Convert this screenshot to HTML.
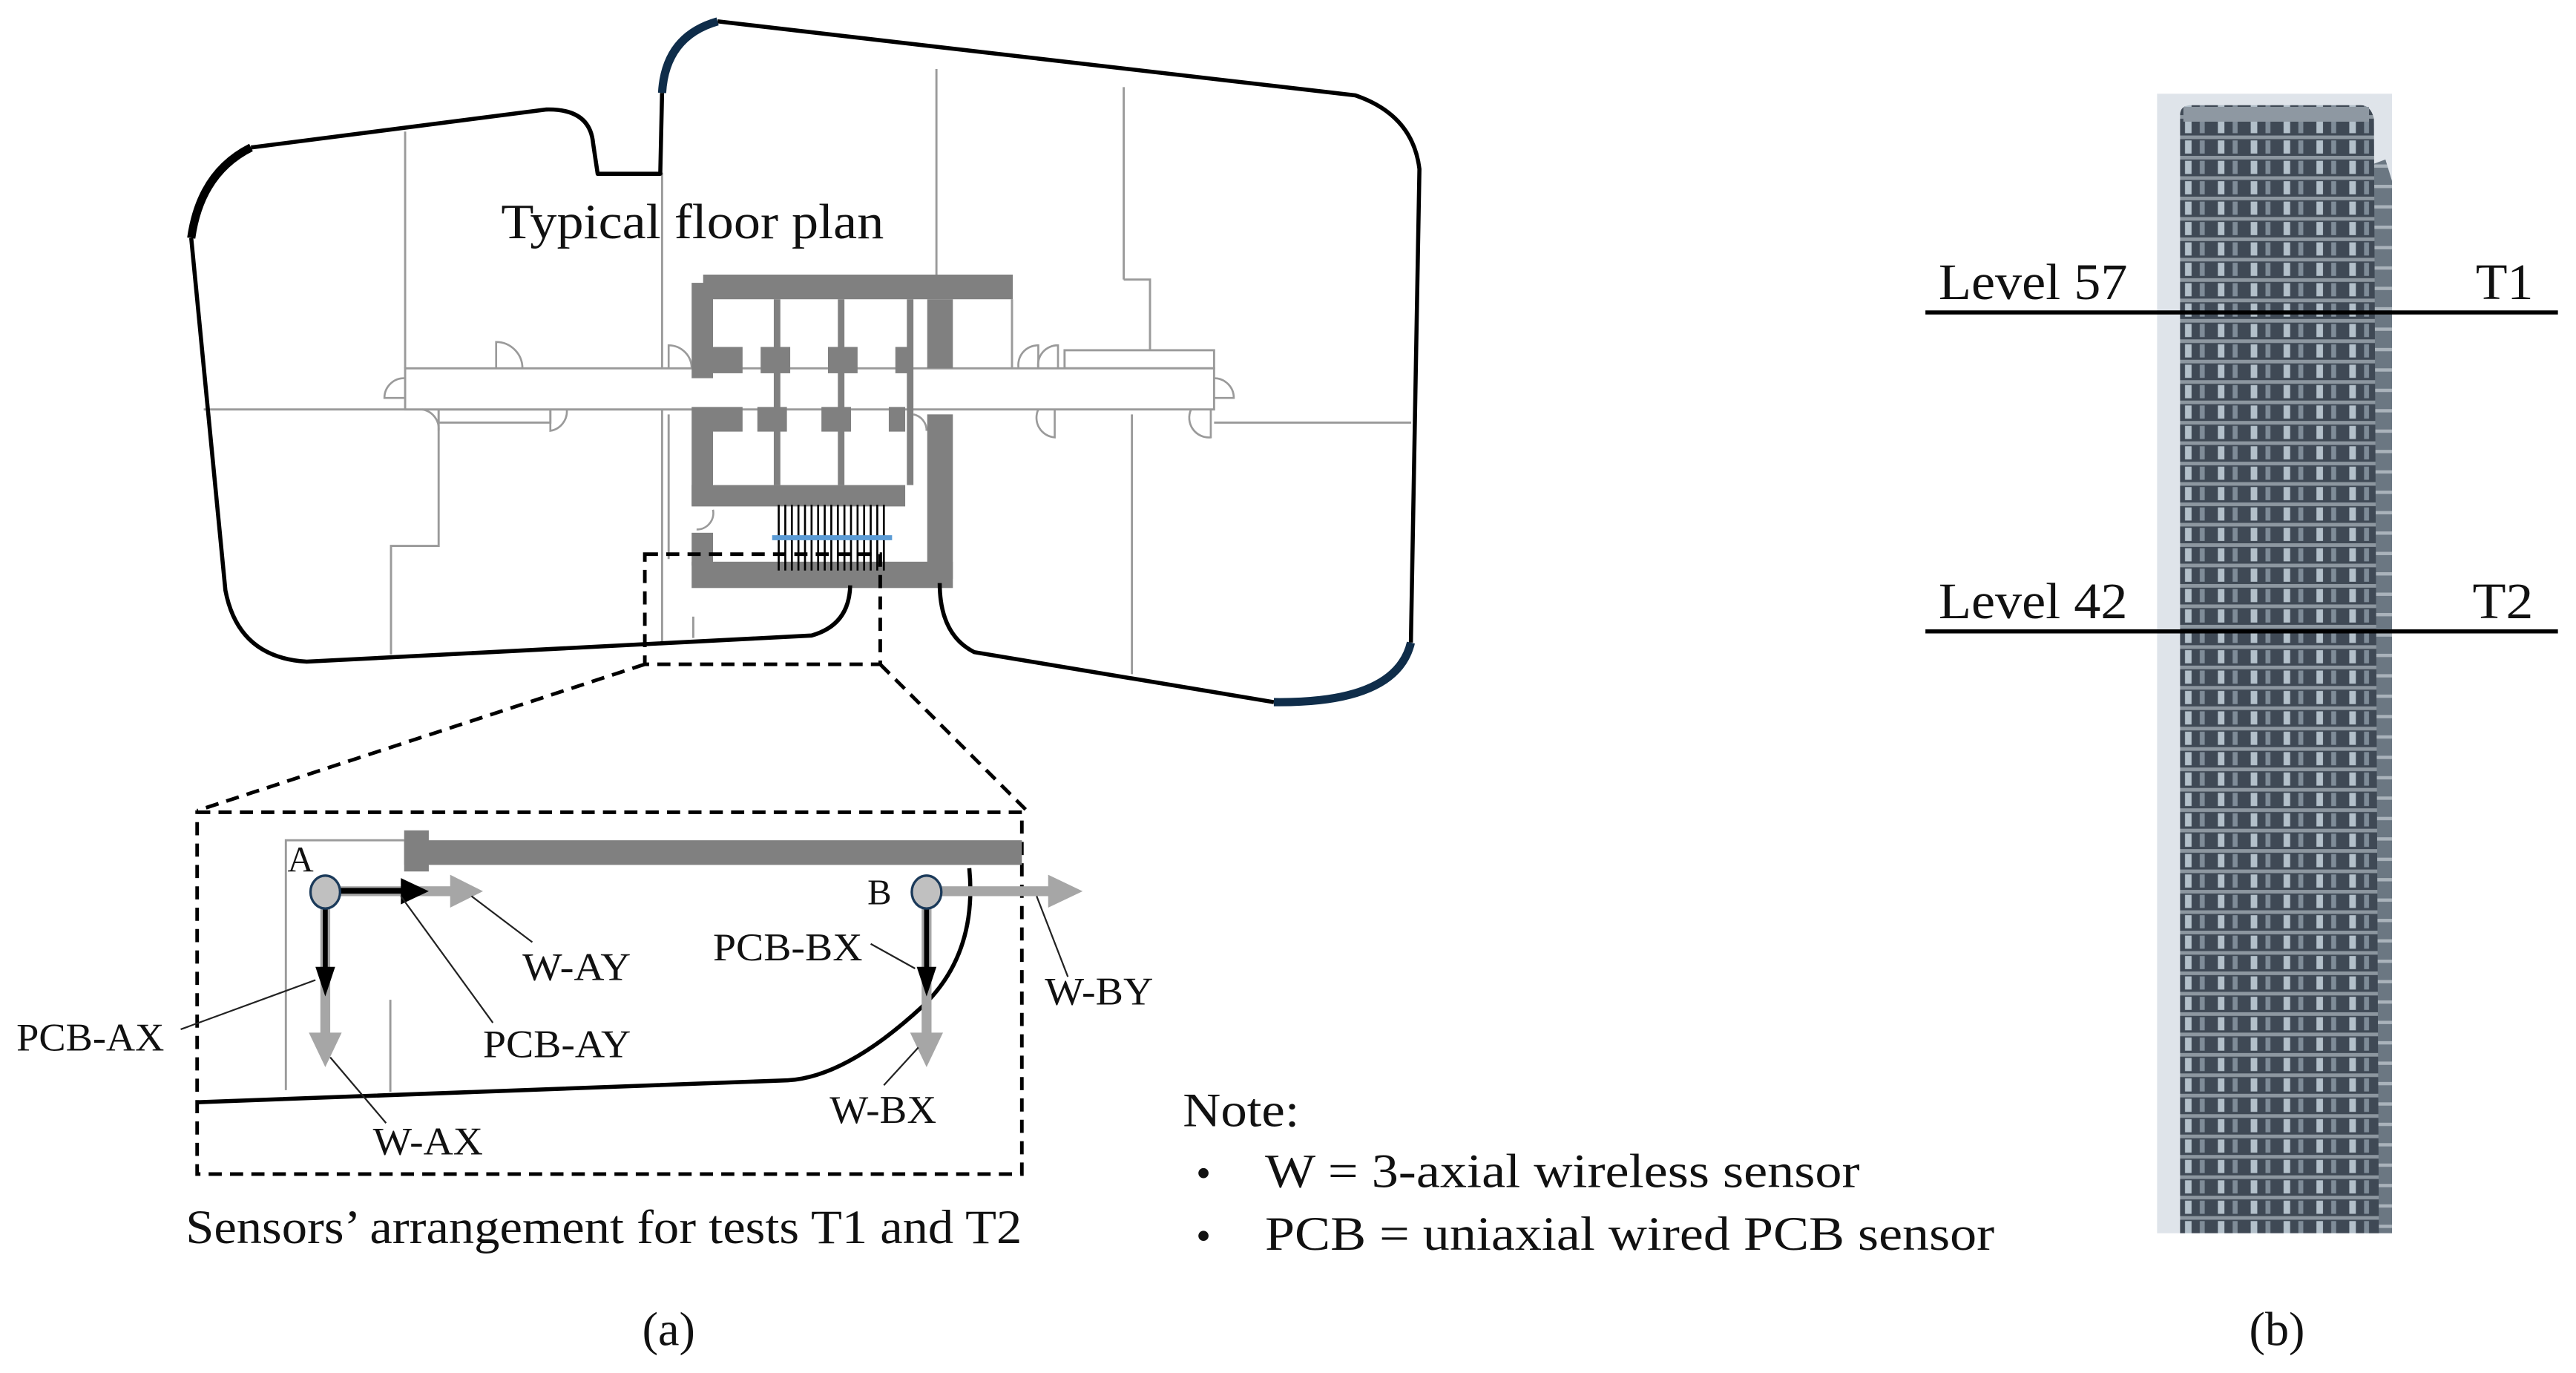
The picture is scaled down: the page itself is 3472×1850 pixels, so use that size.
<!DOCTYPE html>
<html><head><meta charset="utf-8"><style>
html,body{margin:0;padding:0;background:#fff}
svg{display:block}
text{font-family:"Liberation Serif",serif;fill:#111}
</style></head><body>
<svg width="3472" height="1850" viewBox="0 0 1568 835" preserveAspectRatio="none" xmlns="http://www.w3.org/2000/svg">
<defs>
<pattern id="fl" x="1327" y="70" width="20" height="12.4" patternUnits="userSpaceOnUse">
<rect width="20" height="12.4" fill="#3f4955"/>
<rect x="0" y="0" width="20" height="2.2" fill="#8d97a0"/>
<rect x="3" y="3" width="4" height="8" fill="#b3c0ca"/>
<rect x="12" y="3" width="3" height="8" fill="#7f8c98"/>
</pattern>
<pattern id="fl2" x="1440" y="100" width="8" height="12.4" patternUnits="userSpaceOnUse">
<rect width="8" height="12.4" fill="#6b7782"/>
<rect width="8" height="2" fill="#aab3bb"/>
</pattern>
</defs>

<g stroke="#9a9a9a" stroke-width="1.3" fill="none">
<line x1="246.6" y1="80" x2="246.6" y2="224"/>
<line x1="403" y1="105" x2="403" y2="390"/>
<line x1="570" y1="42" x2="570" y2="167"/>
<line x1="684" y1="53" x2="684" y2="170"/>
<polyline points="684,170 700,170 700,213"/>
<line x1="124" y1="249" x2="421" y2="249"/>
<line x1="739" y1="257" x2="859" y2="257"/>
<polyline points="267,258 267,332 238,332 238,398"/>
<line x1="689" y1="252" x2="689" y2="410"/>
<line x1="407" y1="252" x2="407" y2="340"/>
<rect x="648" y="213" width="91" height="11"/>
<rect x="267" y="249" width="68" height="8"/>
<line x1="616" y1="182" x2="616" y2="225"/>
<line x1="422" y1="375" x2="422" y2="388"/>
</g>
<rect x="246.6" y="224" width="492.4" height="25" fill="#fff" stroke="#9a9a9a" stroke-width="1.3"/>
<g stroke="#9a9a9a" stroke-width="1.2" fill="none">
<path d="M302,224 L302,208 A16,16 0 0 1 318,224"/>
<path d="M407,224 L407,210 A14,14 0 0 1 421,224"/>
<path d="M246,230 A12,12 0 0 0 234,242 L246,242"/>
<path d="M739,230 A12,12 0 0 1 751,242 L739,242"/>
<path d="M620,224 A12,12 0 0 1 632,210 L632,224"/>
<path d="M632,224 A12,12 0 0 1 644,210 L644,224"/>
<path d="M267,249 L267,262 A12,12 0 0 0 257,249"/>
<path d="M335,249 L335,262 A12,12 0 0 0 345,249"/>
<path d="M632,249 A12,12 0 0 0 642,266 L642,249"/>
<path d="M725,249 A12,12 0 0 0 737,266 L737,249"/>
<path d="M564,262 A10,10 0 0 0 556,252"/>
<path d="M434,310 A10,10 0 0 1 424,322"/>
</g>
<g fill="#808080">
<rect x="428" y="167" width="188.5" height="15"/>
<rect x="421" y="172" width="13" height="58"/>
<rect x="421" y="247.5" width="13" height="60"/>
<rect x="421" y="295" width="130" height="13"/>
<rect x="564.4" y="182" width="15.6" height="42"/>
<rect x="564.4" y="252" width="15.6" height="100"/>
<rect x="421" y="341.6" width="159" height="16"/>
<rect x="421" y="324" width="13" height="20"/>
<rect x="434" y="211" width="18" height="16"/><rect x="463" y="211" width="18" height="16"/>
<rect x="504" y="211" width="18" height="16"/><rect x="545" y="211" width="10" height="16"/>
<rect x="434" y="247.5" width="18" height="15"/><rect x="461" y="247.5" width="18" height="15"/>
<rect x="500" y="247.5" width="18" height="15"/><rect x="541" y="247.5" width="10" height="15"/>
<rect x="471" y="182" width="4" height="113"/><rect x="510" y="182" width="4" height="113"/><rect x="552" y="182" width="4" height="113"/>
</g>
<g stroke="#000" stroke-width="1.2">
<path d="M474,307V347M478,307V347M482,307V347M486,307V347M490,307V347M494,307V347M498,307V347M502,307V347M506,307V347M510,307V347M514,307V347M518,307V347M522,307V347M526,307V347M530,307V347M534,307V347M538,307V347"/>
</g>
<line x1="470" y1="327" x2="543" y2="327" stroke="#5b9bd5" stroke-width="3"/>

<g fill="none" stroke="#000" stroke-width="2.5" stroke-linejoin="round">
<path d="M152.8,89.7 L332.6,66.6 Q359,66 361,87 L363.8,105.7 L401.9,105.7 L403,56.5"/>
<path d="M436.8,13 L825,58 Q860,70 864,102.8 L858.8,390.8"/>
<path d="M775.4,427 L593,396.6 Q572,386 572,354.6"/>
<path d="M116.4,144.8 L137.2,359 Q145,400 186.7,402.4 L494,386.5 Q517,380 517.5,356"/>
</g>
<path d="M116.4,144.8 Q122,105 152.8,89.7" fill="none" stroke="#000" stroke-width="5"/>
<path d="M403,56.5 Q405,22 436.8,13" fill="none" stroke="#0f2d4a" stroke-width="5"/>
<path d="M858.8,390.8 Q850,428 775.4,427" fill="none" stroke="#0f2d4a" stroke-width="5"/>

<text x="305" y="145" font-size="30" textLength="233" lengthAdjust="spacingAndGlyphs">Typical floor plan</text>

<g fill="none" stroke="#000" stroke-width="2.2" stroke-dasharray="8,5">
<rect x="392.5" y="337" width="143.3" height="67"/>
<line x1="392.5" y1="404" x2="120" y2="493"/>
<line x1="535.8" y1="404" x2="625" y2="493"/>
<rect x="120" y="494" width="502" height="220"/>
</g>

<g stroke="#9a9a9a" stroke-width="1.3" fill="none">
<polyline points="246,511 174,511 174,663"/>
<line x1="237.6" y1="608" x2="237.6" y2="664"/>
</g>
<rect x="246" y="511" width="376" height="15" fill="#808080"/>
<rect x="246" y="505" width="15" height="25" fill="#808080"/>
<path d="M590,528 Q595,580 561.6,612 Q515,655 479.5,657 L121,670.3" fill="none" stroke="#000" stroke-width="2.5"/>

<g fill="#a6a6a6">
<rect x="205" y="539" width="72" height="6"/><polygon points="274,532 294,542 274,552"/>
<rect x="195" y="548" width="6" height="85"/><polygon points="188,628 198,649 208,628"/>
<rect x="571" y="539" width="70" height="6"/><polygon points="638,532 659,542 638,552"/>
<rect x="561" y="548" width="6" height="85"/><polygon points="554,628 564,649 574,628"/>
</g>
<g fill="#000">
<rect x="205" y="540" width="42" height="3.5"/><polygon points="244,534 261,542 244,550"/>
<rect x="196.5" y="550" width="3" height="42"/><polygon points="192,588 198,606 204,588"/>
<rect x="562.5" y="550" width="3" height="42"/><polygon points="558,588 564,606 570,588"/>
</g>
<ellipse cx="198" cy="542.5" rx="9" ry="10" fill="#c0c0c0" stroke="#1b3a5a" stroke-width="1.5"/>
<ellipse cx="564" cy="542.5" rx="9" ry="10" fill="#c0c0c0" stroke="#1b3a5a" stroke-width="1.5"/>
<text x="175" y="530" font-size="22">A</text>
<text x="528" y="550" font-size="22">B</text>

<g stroke="#222" stroke-width="1">
<line x1="110" y1="626" x2="192" y2="596"/>
<line x1="324" y1="573" x2="287" y2="545"/>
<line x1="300" y1="622" x2="244" y2="545"/>
<line x1="235" y1="683" x2="201" y2="643"/>
<line x1="530" y1="574" x2="557" y2="589"/>
<line x1="538" y1="660" x2="559" y2="637"/>
<line x1="650" y1="594" x2="631" y2="545"/>
</g>
<g font-size="24" lengthAdjust="spacingAndGlyphs">
<text x="10" y="639" textLength="90" lengthAdjust="spacingAndGlyphs">PCB-AX</text>
<text x="318" y="596" textLength="66" lengthAdjust="spacingAndGlyphs">W-AY</text>
<text x="294" y="643" textLength="90" lengthAdjust="spacingAndGlyphs">PCB-AY</text>
<text x="434" y="584" textLength="91" lengthAdjust="spacingAndGlyphs">PCB-BX</text>
<text x="636" y="611" textLength="66" lengthAdjust="spacingAndGlyphs">W-BY</text>
<text x="227" y="702" textLength="67" lengthAdjust="spacingAndGlyphs">W-AX</text>
<text x="505" y="683" textLength="65" lengthAdjust="spacingAndGlyphs">W-BX</text>
</g>
<text x="113" y="756" font-size="29" textLength="509" lengthAdjust="spacingAndGlyphs">Sensors’ arrangement for tests T1 and T2</text>
<text x="720" y="685" font-size="29" textLength="71" lengthAdjust="spacingAndGlyphs">Note:</text>
<text x="728" y="722" font-size="26">•</text><text x="770" y="722" font-size="29" textLength="362" lengthAdjust="spacingAndGlyphs">W = 3-axial wireless sensor</text>
<text x="728" y="760" font-size="26">•</text><text x="770" y="760" font-size="29" textLength="444" lengthAdjust="spacingAndGlyphs">PCB = uniaxial wired PCB sensor</text>
<text x="407" y="818" font-size="29" text-anchor="middle">(a)</text>
<text x="1386" y="818" font-size="29" text-anchor="middle">(b)</text>

<rect x="1313" y="57" width="143" height="693" fill="#dfe4ea"/>
<path d="M1444,100 L1452,97 L1456,110 L1456,750 L1440,750 Z" fill="url(#fl2)"/>
<path d="M1327,750 L1327,70 Q1327,64 1334,64 L1437,64 Q1443,64 1445,72 L1448,750 Z" fill="url(#fl)"/>
<rect x="1329" y="65" width="113" height="9" fill="#8e98a2"/>

<g stroke="#000" stroke-width="2.5">
<line x1="1172" y1="190" x2="1557" y2="190"/>
<line x1="1172" y1="384" x2="1557" y2="384"/>
</g>
<g font-size="31">
<text x="1180" y="182" textLength="115" lengthAdjust="spacingAndGlyphs">Level 57</text><text x="1507" y="182" textLength="35" lengthAdjust="spacingAndGlyphs">T1</text>
<text x="1180" y="376" textLength="115" lengthAdjust="spacingAndGlyphs">Level 42</text><text x="1505" y="376" textLength="37" lengthAdjust="spacingAndGlyphs">T2</text>
</g>
</svg>
</body></html>
